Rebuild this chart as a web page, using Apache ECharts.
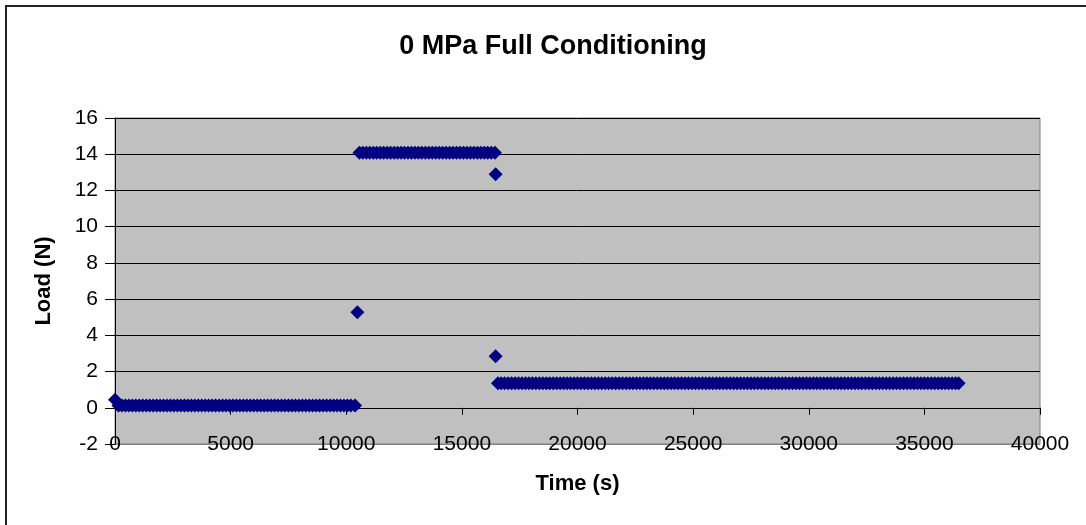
<!DOCTYPE html>
<html>
<head>
<meta charset="utf-8">
<script src="https://cdn.jsdelivr.net/npm/echarts@6/dist/echarts.min.js"></script>
<style>
html,body{margin:0;padding:0;background:#fff;}
#chart{width:1086px;height:525px;}
</style>
</head>
<body>
<div id="chart"></div>
<script>
// ---- data ----
const chartTitle = '0 MPa Full Conditioning';
const xAxisTitle = 'Time (s)';
const yAxisTitle = 'Load (N)';

// isolated / transition points
const transitionTimes = [0, 10480, 16460, 16460];
const transitionLoads = [0.45, 5.27, 12.9, 2.85];

// stage 1: near-zero load
const stage1Load = 0.12;
const stage1Times = [150, 300, 450, 600, 750, 900, 1050, 1200, 1350, 1500, 1650, 1800, 1950, 2100, 2250, 2400, 2550, 2700, 2850,
  3000, 3150, 3300, 3450, 3600, 3750, 3900, 4050, 4200, 4350, 4500, 4650, 4800, 4950, 5100, 5250, 5400, 5550, 5700, 5850,
  6000, 6150, 6300, 6450, 6600, 6750, 6900, 7050, 7200, 7350, 7500, 7650, 7800, 7950, 8100, 8250, 8400, 8550, 8700, 8850,
  9000, 9150, 9300, 9450, 9600, 9750, 9900, 10050, 10200, 10380];

// stage 2: ~14 N plateau
const stage2Load = 14.08;
const stage2Times = [10570, 10720, 10870, 11020, 11170, 11320, 11470, 11620, 11770, 11920, 12070, 12220, 12370, 12520,
  12670, 12820, 12970, 13120, 13270, 13420, 13570, 13720, 13870, 14020, 14170, 14320, 14470, 14620, 14770, 14920,
  15070, 15220, 15370, 15520, 15670, 15820, 15970, 16120, 16270, 16430];

// stage 3: ~1.35 N plateau
const stage3Load = 1.35;
const stage3Times = [16560, 16700, 16850,
  17000, 17150, 17300, 17450, 17600, 17750, 17900, 18050, 18200, 18350, 18500, 18650, 18800, 18950, 19100, 19250, 19400, 19550, 19700, 19850,
  20000, 20150, 20300, 20450, 20600, 20750, 20900, 21050, 21200, 21350, 21500, 21650, 21800, 21950, 22100, 22250, 22400, 22550, 22700, 22850,
  23000, 23150, 23300, 23450, 23600, 23750, 23900, 24050, 24200, 24350, 24500, 24650, 24800, 24950, 25100, 25250, 25400, 25550, 25700, 25850,
  26000, 26150, 26300, 26450, 26600, 26750, 26900, 27050, 27200, 27350, 27500, 27650, 27800, 27950, 28100, 28250, 28400, 28550, 28700, 28850,
  29000, 29150, 29300, 29450, 29600, 29750, 29900, 30050, 30200, 30350, 30500, 30650, 30800, 30950, 31100, 31250, 31400, 31550, 31700, 31850,
  32000, 32150, 32300, 32450, 32600, 32750, 32900, 33050, 33200, 33350, 33500, 33650, 33800, 33950, 34100, 34250, 34400, 34550, 34700, 34850,
  35000, 35150, 35300, 35450, 35600, 35750, 35900, 36050, 36200, 36350, 36480];

// axis ranges
const xMin = 0, xMax = 40000, xStep = 5000;
const yMin = -2, yMax = 16, yStep = 2;

// ---- build the series data ----
const points = [];
stage1Times.forEach(t => points.push([t, stage1Load]));
stage2Times.forEach(t => points.push([t, stage2Load]));
stage3Times.forEach(t => points.push([t, stage3Load]));
transitionTimes.forEach((t, i) => points.push([t, transitionLoads[i]]));

const nTicks = Math.round((yMax - yMin) / yStep) + 1;
const splitColors = [];
for (let i = 0; i < nTicks; i++) splitColors.push(i === 0 ? '#808080' : '#000000');

const FONT = "'Liberation Sans', Arial, sans-serif";

const chart = echarts.init(document.getElementById('chart'), null, {renderer: 'canvas'});
chart.setOption({
  animation: false,
  backgroundColor: '#ffffff',
  title: {
    text: chartTitle,
    left: 548,
    top: 28,
    textAlign: 'center',
    textStyle: {fontFamily: FONT, fontSize: 27, fontWeight: 'bold', color: '#000'}
  },
  graphic: [{
    type: 'rect',
    shape: {x: 6, y: 6, width: 1200, height: 600},
    style: {fill: 'none', stroke: '#222', lineWidth: 2},
    silent: true,
    z: 100
  }],
  grid: {
    left: 115, right: 46, top: 118, bottom: 81,
    containLabel: false,
    outerBoundsMode: 'none',
    show: true,
    backgroundColor: '#C0C0C0',
    borderColor: '#808080',
    borderWidth: 1
  },
  xAxis: {
    type: 'value',
    min: xMin, max: xMax, interval: xStep,
    name: xAxisTitle,
    nameLocation: 'middle',
    nameGap: 29,
    nameTextStyle: {fontFamily: FONT, fontSize: 22, fontWeight: 'bold', color: '#000'},
    axisLine: {show: true, onZero: true, lineStyle: {color: '#000', width: 1}},
    axisTick: {show: true, length: 7, lineStyle: {color: '#000'}},
    axisLabel: {fontFamily: FONT, fontSize: 21, color: '#000', margin: -10,
      formatter: v => String(v)},
    splitLine: {show: false}
  },
  yAxis: {
    type: 'value',
    min: yMin, max: yMax, interval: yStep,
    name: yAxisTitle,
    nameLocation: 'middle',
    nameGap: 60,
    nameRotate: 90,
    nameTextStyle: {fontFamily: FONT, fontSize: 22, fontWeight: 'bold', color: '#000'},
    axisLine: {show: true, onZero: false, lineStyle: {color: '#000', width: 1}},
    axisTick: {show: true, length: 10, lineStyle: {color: '#000'}},
    axisLabel: {fontFamily: FONT, fontSize: 21, color: '#000', margin: 17},
    splitLine: {show: true, lineStyle: {color: splitColors, width: 1}}
  },
  series: [{
    type: 'scatter',
    data: points,
    symbol: 'diamond',
    symbolSize: 14,
    itemStyle: {color: '#000080', opacity: 1},
    emphasis: {disabled: true},
    silent: true
  }]
});
</script>
</body>
</html>
